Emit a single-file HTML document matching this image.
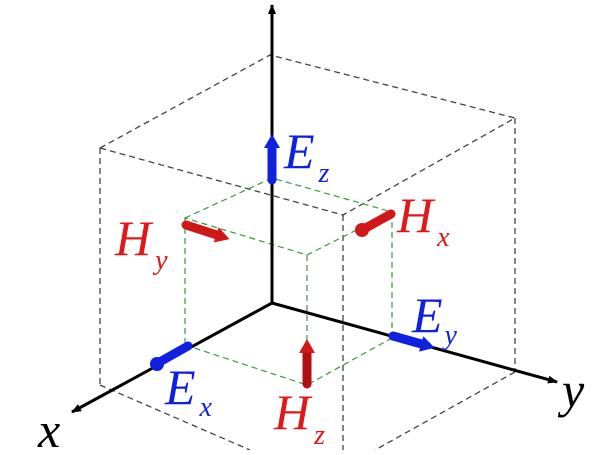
<!DOCTYPE html>
<html><head><meta charset="utf-8"><style>
body{margin:0;background:#fff;width:600px;height:450px;overflow:hidden}
svg text{font-family:"Liberation Serif",serif;font-style:italic}
</style></head><body>
<svg width="600" height="450" viewBox="0 0 600 450">
<defs>
<marker id="ah" markerWidth="10" markerHeight="8" refX="9" refY="4" orient="auto" markerUnits="userSpaceOnUse"><path d="M0,0 L10,4 L0,8 Z" fill="#000"/></marker>
<marker id="ab" markerWidth="14" markerHeight="16" refX="4" refY="8" orient="auto" markerUnits="userSpaceOnUse"><path d="M0,0 L14,8 L0,16 Z" fill="#1020e0"/></marker>
<marker id="ar" markerWidth="14" markerHeight="16" refX="4" refY="8" orient="auto" markerUnits="userSpaceOnUse"><path d="M0,0 L14,8 L0,16 Z" fill="#d01818"/></marker>
</defs>
<g stroke="#444" stroke-width="1.3" stroke-dasharray="6,4" fill="none">
<path d="M100,148 L270,55 L515,118 L343,215 Z"/>
<path d="M100,148 L100,385 M343,215 L343,450 M515,118 L515,372"/>
<path d="M100,385 L250,450 M515,372 L375,450"/>
</g>
<g stroke="#3a9a3a" stroke-width="1.2" stroke-dasharray="6,4" fill="none">
<path d="M185,218 L272,178 L392,212 L307,255 Z"/>
<path d="M185,218 L185,345 M307,255 L307,385 M392,212 L392,338"/>
<path d="M185,345 L307,385 L392,338"/>
</g>
<g stroke="#000" stroke-width="3" fill="none">
<line x1="272" y1="303" x2="272" y2="5" marker-end="url(#ah)"/>
<line x1="272" y1="303" x2="72" y2="412" marker-end="url(#ah)"/>
<line x1="272" y1="303" x2="557" y2="382" marker-end="url(#ah)"/>
</g>
<g stroke-width="9" stroke-linecap="round" fill="none">
<line x1="272" y1="180" x2="272" y2="144" stroke="#1020e0" marker-end="url(#ab)"/>
<line x1="188" y1="346" x2="156" y2="364" stroke="#1020e0"/>
<line x1="393" y1="336" x2="425" y2="345" stroke="#1020e0" marker-end="url(#ab)"/>
<line x1="307" y1="384" x2="307" y2="349" stroke="#b01010" marker-end="url(#ar)"/>
<line x1="186" y1="225" x2="220" y2="236" stroke="#d01818" marker-end="url(#ar)"/>
<line x1="391" y1="214" x2="362" y2="230" stroke="#d01818"/>
</g>
<circle cx="157" cy="364" r="7" fill="#1020e0"/>
<circle cx="362" cy="230" r="7" fill="#d01818"/>
<g font-size="50">
<text x="284" y="168" fill="#1020e0">E<tspan font-size="28" dx="4" dy="14">z</tspan></text>
<text x="115" y="255" fill="#e01818">H<tspan font-size="28" dx="4" dy="14">y</tspan></text>
<text x="397" y="232" fill="#e01818">H<tspan font-size="28" dx="4" dy="14">x</tspan></text>
<text x="412" y="332" fill="#1020e0">E<tspan font-size="28" dx="2" dy="12">y</tspan></text>
<text x="165" y="404" fill="#1020e0">E<tspan font-size="28" dx="4" dy="12">x</tspan></text>
<text x="274" y="429" fill="#e01818">H<tspan font-size="28" dx="4" dy="15">z</tspan></text>
<text x="38" y="447" fill="#000">x</text>
<text x="562" y="407" fill="#000">y</text>
</g>
</svg>
</body></html>
